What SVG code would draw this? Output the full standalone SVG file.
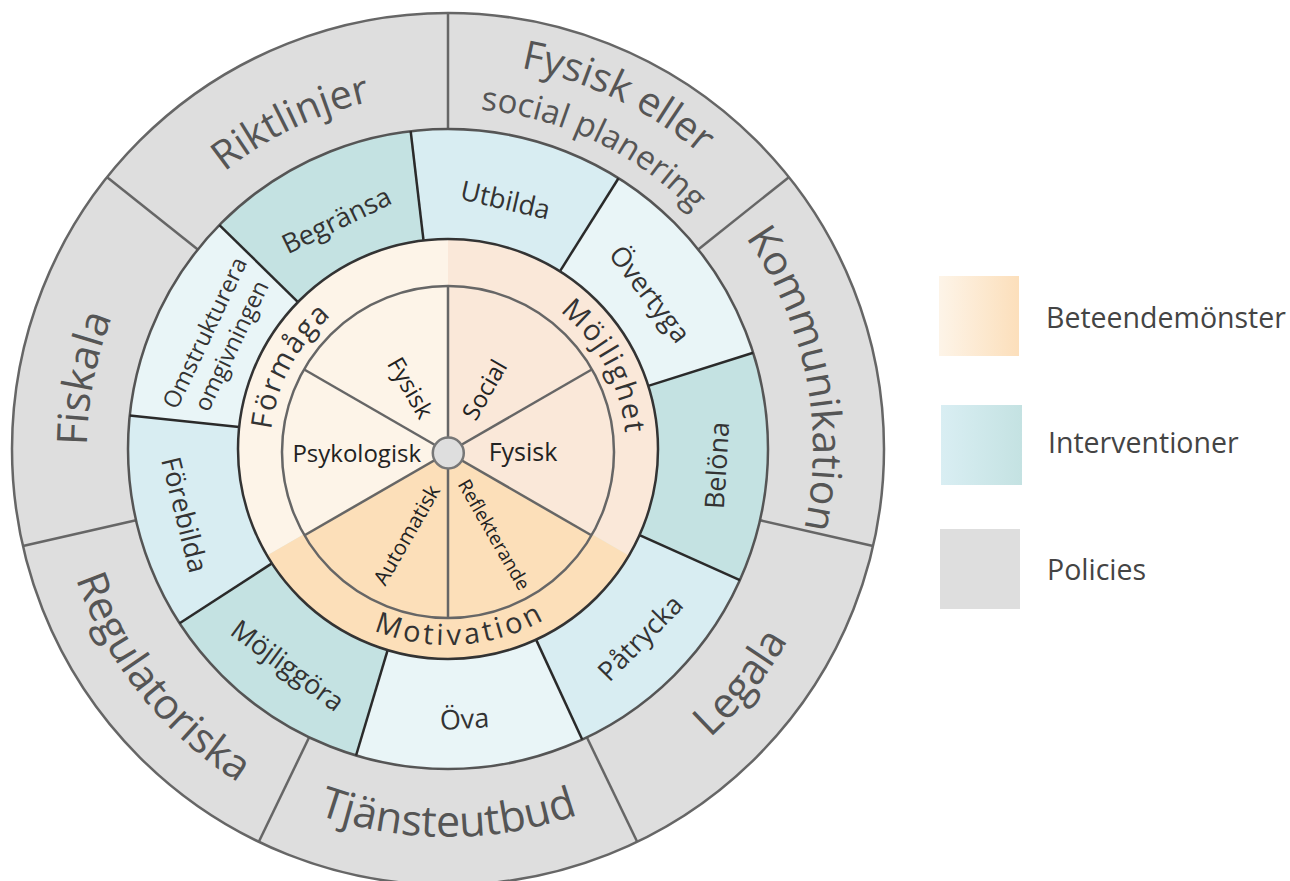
<svg xmlns="http://www.w3.org/2000/svg" width="1290" height="881" viewBox="0 0 1290 881">
<style>
text{font-family:'Open Sans','DejaVu Sans',sans-serif;font-weight:500}
.pt{font-size:42px;fill:#555}
.it{font-size:27px;fill:#333}
.ct{font-size:29px;fill:#333;letter-spacing:2px}
.st{font-size:24px;fill:#222}
.lt{font-size:28.5px;fill:#444}
.sep{stroke:#666;stroke-width:2.5}
.isep{stroke:#2a2a2a;stroke-width:2.5}
.pl{stroke:#666;stroke-width:2.5}
.c1{fill:#c4e2e2}.c2{fill:#d8edf2}.c3{fill:#e9f5f7}
</style>
<defs>
<clipPath id="ringClip"><circle cx="448" cy="449" r="210"/></clipPath>
<linearGradient id="gB" x1="0" x2="1" y1="0" y2="0"><stop offset="0" stop-color="#fdf4e8"/><stop offset="1" stop-color="#fcdfbb"/></linearGradient>
<linearGradient id="gI" x1="0" x2="1" y1="0" y2="0"><stop offset="0" stop-color="#d9eef3"/><stop offset="1" stop-color="#c4e2e2"/></linearGradient>
<path id="aRikt" d="M123.54,302.50 A356,356 0 0 1 535.93,104.03"/>
<path id="aFys1" d="M352.17,73.02 A388,388 0 0 1 801.62,289.33"/>
<path id="aFys2" d="M363.78,118.56 A341,341 0 0 1 758.79,308.67"/>
<path id="aKomm" d="M675.72,163.75 A365,365 0 0 1 768.46,623.72"/>
<path id="aLeg" d="M525.29,831.27 A390,390 0 0 0 837.88,439.27"/>
<path id="aTjan" d="M173.64,723.36 A388,388 0 0 0 722.36,723.36"/>
<path id="aReg" d="M61.81,370.92 A394,394 0 0 0 438.17,842.88"/>
<path id="aFisk" d="M132.26,624.02 A361,361 0 0 1 220.82,168.45"/>
<path id="aForm" d="M282.96,516.68 A178,178 0 0 1 410.99,275.89"/>
<path id="aMojl" d="M485.01,275.89 A178,178 0 0 1 613.04,516.68"/>
<path id="aMot" d="M296.46,572.72 A195,195 0 0 0 615.15,550.43"/>
</defs>

<!-- Policies ring -->
<g id="policies">
<circle cx="448" cy="449" r="436" fill="#dedede" stroke="#666" stroke-width="2.5"/>
</g>
<g id="policy-dividers">
<line class="sep" x1="448" y1="129" x2="448" y2="13"/>
<line class="sep" x1="698.19" y1="249.48" x2="788.88" y2="177.16"/>
<line class="sep" x1="759.98" y1="520.21" x2="873.07" y2="546.02"/>
<line class="sep" x1="586.84" y1="737.31" x2="637.17" y2="841.82"/>
<line class="sep" x1="309.16" y1="737.31" x2="258.83" y2="841.82"/>
<line class="sep" x1="136.02" y1="520.21" x2="22.93" y2="546.02"/>
<line class="sep" x1="197.81" y1="249.48" x2="107.12" y2="177.16"/>
</g>

<!-- Interventions ring -->
<g id="interventions">
<path id="seg-utbilda" class="c2" d="M448,449 L410.67,131.19 A320,320 0 0 1 618.52,178.22 Z"/>
<path id="seg-overtyga" class="c3" d="M448,449 L618.52,178.22 A320,320 0 0 1 753.19,352.77 Z"/>
<path id="seg-belona" class="c1" d="M448,449 L753.19,352.77 A320,320 0 0 1 739.88,580.17 Z"/>
<path id="seg-patrycka" class="c2" d="M448,449 L739.88,580.17 A320,320 0 0 1 582.22,739.49 Z"/>
<path id="seg-ova" class="c3" d="M448,449 L582.22,739.49 A320,320 0 0 1 356.04,755.50 Z"/>
<path id="seg-mojliggora" class="c1" d="M448,449 L356.04,755.50 A320,320 0 0 1 179.63,623.28 Z"/>
<path id="seg-forebilda" class="c2" d="M448,449 L179.63,623.28 A320,320 0 0 1 129.75,415.55 Z"/>
<path id="seg-omstrukturera" class="c3" d="M448,449 L129.75,415.55 A320,320 0 0 1 219.43,225.04 Z"/>
<path id="seg-begransa" class="c1" d="M448,449 L219.43,225.04 A320,320 0 0 1 410.67,131.19 Z"/>
<circle cx="448" cy="449" r="320" fill="none" stroke="#555" stroke-width="2.5"/>
</g>

<!-- Behaviour ring -->
<g id="behaviour" clip-path="url(#ringClip)">
<polygon id="seg-formaga" fill="#fdf4e8" points="448,451 448,151 188.2,301 188.2,601"/>
<polygon id="seg-mojlighet" fill="#fae8d9" points="448,451 448,151 707.8,301 707.8,601"/>
<polygon id="seg-motivation" fill="#fcdfb9" points="448,451 707.8,601 448,751 188.2,601"/>
</g>

<g id="intervention-dividers">
<line class="isep" x1="423.50" y1="240.43" x2="410.67" y2="131.19"/>
<line class="isep" x1="559.90" y1="271.30" x2="618.52" y2="178.22"/>
<line class="isep" x1="648.28" y1="385.85" x2="753.19" y2="352.77"/>
<line class="isep" x1="639.55" y1="535.08" x2="739.88" y2="580.17"/>
<line class="isep" x1="536.08" y1="639.63" x2="582.22" y2="739.49"/>
<line class="isep" x1="387.65" y1="650.14" x2="356.04" y2="755.50"/>
<line class="isep" x1="271.88" y1="563.37" x2="179.63" y2="623.28"/>
<line class="isep" x1="239.15" y1="427.05" x2="129.75" y2="415.55"/>
<line class="isep" x1="298.00" y1="302.03" x2="219.43" y2="225.04"/>
</g>
<circle cx="448" cy="449" r="210" fill="none" stroke="#333" stroke-width="2.5"/>

<!-- Inner pie -->
<g id="inner-pie">
<circle cx="448" cy="452" r="166" fill="none" stroke="#666" stroke-width="2.5"/>
<line class="pl" x1="448" y1="452.5" x2="448" y2="286"/>
<line class="pl" x1="448" y1="452.5" x2="591.76" y2="369.5"/>
<line class="pl" x1="448" y1="452.5" x2="591.76" y2="535.5"/>
<line class="pl" x1="448" y1="452.5" x2="448" y2="618"/>
<line class="pl" x1="448" y1="452.5" x2="304.24" y2="535.5"/>
<line class="pl" x1="448" y1="452.5" x2="304.24" y2="369.5"/>
<circle id="hub" cx="448.3" cy="453" r="15.5" fill="#dedede" stroke="#777" stroke-width="2.5"/>
</g>

<!-- Policy labels -->
<g id="policy-labels">
<text class="pt" style="font-size:40px"><textPath href="#aRikt" startOffset="50%" text-anchor="middle">Riktlinjer</textPath></text>
<text class="pt" style="font-size:40px"><textPath href="#aFys1" startOffset="50%" text-anchor="middle">Fysisk eller</textPath></text>
<text class="pt" style="font-size:33px"><textPath href="#aFys2" startOffset="50%" text-anchor="middle">social planering</textPath></text>
<text class="pt" style="font-size:41px"><textPath href="#aKomm" startOffset="50%" text-anchor="middle">Kommunikation</textPath></text>
<text class="pt"><textPath href="#aLeg" startOffset="50%" text-anchor="middle">Legala</textPath></text>
<text class="pt" style="font-size:43px"><textPath href="#aTjan" startOffset="50%" text-anchor="middle">Tjänsteutbud</textPath></text>
<text class="pt"><textPath href="#aReg" startOffset="50%" text-anchor="middle">Regulatoriska</textPath></text>
<text class="pt"><textPath href="#aFisk" startOffset="50%" text-anchor="middle">Fiskala</textPath></text>
</g>

<!-- Intervention labels -->
<g id="intervention-labels" text-anchor="middle">
<text class="it" transform="translate(336.65,220.71) rotate(-26)" y="9">Begränsa</text>
<text class="it" transform="translate(505.36,200.54) rotate(13)" y="9">Utbilda</text>
<text class="it" transform="translate(649.51,294.38) rotate(52.5)" y="9">Övertyga</text>
<text class="it" transform="translate(717.5,465.48) rotate(-86.5)" y="9">Belöna</text>
<text class="it" transform="translate(640.58,638.25) rotate(-45.5)" y="9">Påtrycka</text>
<text class="it" transform="translate(464.54,719.49) rotate(-3.5)" y="9">Öva</text>
<text class="it" transform="translate(287.4,666.04) rotate(36.5)" y="9">Möjliggöra</text>
<text class="it" transform="translate(184.08,514.8) rotate(76)" y="9">Förebilda</text>
<text class="it" style="font-size:23.5px" transform="translate(205,333) rotate(-64.5)" y="8">Omstrukturera</text>
<text class="it" style="font-size:23.5px" transform="translate(231.5,345.8) rotate(-64.5)" y="8">omgivningen</text>
</g>

<!-- COM-B labels -->
<g id="comb-labels">
<text class="ct"><textPath href="#aForm" startOffset="50%" text-anchor="middle">Förmåga</textPath></text>
<text class="ct"><textPath href="#aMojl" startOffset="50%" text-anchor="middle">Möjlighet</textPath></text>
<text class="ct" style="letter-spacing:3.5px"><textPath href="#aMot" startOffset="50%" text-anchor="middle">Motivation</textPath></text>
</g>

<!-- Sub-component labels -->
<g id="sub-labels" text-anchor="middle">
<text class="st" transform="translate(410,388) rotate(60)" y="8">Fysisk</text>
<text class="st" transform="translate(485,390) rotate(-60)" y="8">Social</text>
<text class="st" x="356.7" y="462">Psykologisk</text>
<text class="st" style="font-size:25px" x="523" y="461">Fysisk</text>
<text class="st" style="font-size:21px" transform="translate(407,535) rotate(-60)" y="7">Automatisk</text>
<text class="st" style="font-size:19px" transform="translate(493.5,535) rotate(60)" y="6">Reflekterande</text>
</g>

<!-- Legend -->
<g id="legend">
<rect x="939" y="276" width="80" height="80" fill="url(#gB)"/>
<text class="lt" x="1046" y="328">Beteendemönster</text>
<rect x="941" y="405" width="81" height="80" fill="url(#gI)"/>
<text class="lt" x="1048" y="453">Interventioner</text>
<rect x="940" y="529" width="80" height="80" fill="#dedede"/>
<text class="lt" x="1047" y="580">Policies</text>
</g>
</svg>
